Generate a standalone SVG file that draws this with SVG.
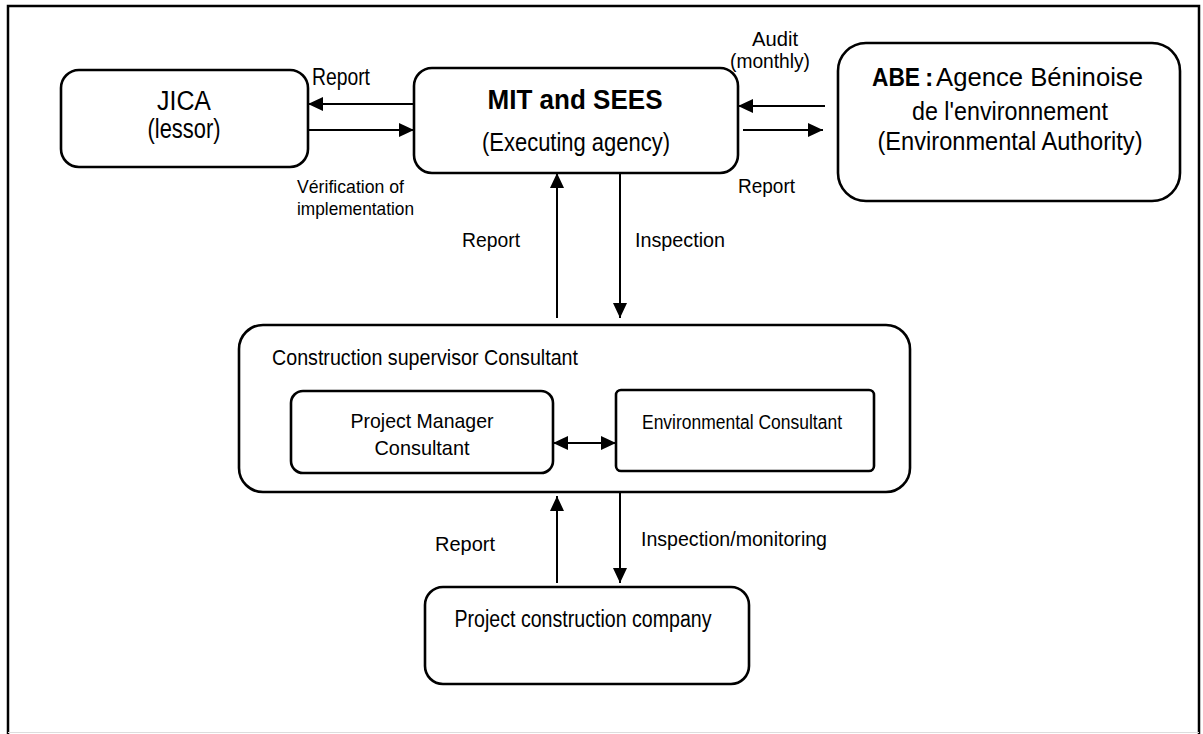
<svg xmlns="http://www.w3.org/2000/svg" width="1203" height="734" viewBox="0 0 1203 734">
  <defs>
    <marker id="arrow" markerUnits="userSpaceOnUse" markerWidth="16" markerHeight="14" refX="15" refY="7" orient="auto">
      <path d="M0,0 L15,7 L0,14 Z" fill="#000"/>
    </marker>
    <marker id="arrow-start" markerUnits="userSpaceOnUse" markerWidth="16" markerHeight="14" refX="0" refY="7" orient="auto">
      <path d="M15,0 L0,7 L15,14 Z" fill="#000"/>
    </marker>
  </defs>
  <style>
    text { font-family: "Liberation Sans", Arial, sans-serif; fill: #000; }
    .box { fill: #fff; stroke: #000; stroke-width: 2.6; }
    .link { stroke: #000; stroke-width: 2; fill: none; }
    .bold { font-weight: bold; }
  </style>

  <rect width="1203" height="734" fill="#fff"/>
  <!-- outer frame -->
  <path d="M8,740 L8,6 L1199,6 L1199,740" fill="none" stroke="#000" stroke-width="2.5"/>
  <line x1="8" y1="732.5" x2="1199" y2="732.5" stroke="#ddd" stroke-width="1"/>

  <g id="jica">
    <rect class="box" x="61" y="70" width="247" height="97" rx="18"/>
    <text x="184" y="110" font-size="27" text-anchor="middle" textLength="54" lengthAdjust="spacingAndGlyphs">JICA</text>
    <text x="184" y="138" font-size="27" text-anchor="middle" textLength="73" lengthAdjust="spacingAndGlyphs">(lessor)</text>
  </g>

  <g id="mit">
    <rect class="box" x="414" y="68" width="324" height="105" rx="18"/>
    <text class="bold" x="575" y="109" font-size="27" text-anchor="middle" textLength="175" lengthAdjust="spacingAndGlyphs">MIT and SEES</text>
    <text x="576" y="151" font-size="26" text-anchor="middle" textLength="188" lengthAdjust="spacingAndGlyphs">(Executing agency)</text>
  </g>

  <g id="abe">
    <rect class="box" x="838" y="43" width="342" height="158" rx="28"/>
    <text class="bold" x="872" y="86" font-size="25" textLength="48" lengthAdjust="spacingAndGlyphs">ABE</text>
    <text class="bold" x="925" y="86" font-size="25">:</text>
    <text x="936" y="86" font-size="26" textLength="207" lengthAdjust="spacingAndGlyphs">Agence Béninoise</text>
    <text x="1010" y="120" font-size="26" text-anchor="middle" textLength="196" lengthAdjust="spacingAndGlyphs">de l'environnement</text>
    <text x="1010" y="150" font-size="26" text-anchor="middle" textLength="265" lengthAdjust="spacingAndGlyphs">(Environmental Authority)</text>
  </g>

  <g id="supervisor">
    <rect class="box" x="239" y="325" width="671" height="167" rx="24"/>
    <text x="272" y="365" font-size="22" textLength="306" lengthAdjust="spacingAndGlyphs">Construction supervisor Consultant</text>
  </g>

  <g id="project-manager">
    <rect class="box" x="291" y="391" width="262" height="82" rx="12"/>
    <text x="422" y="428" font-size="21" text-anchor="middle" textLength="143" lengthAdjust="spacingAndGlyphs">Project Manager</text>
    <text x="422" y="455" font-size="21" text-anchor="middle" textLength="95" lengthAdjust="spacingAndGlyphs">Consultant</text>
  </g>

  <g id="environmental-consultant">
    <rect class="box" x="616" y="390" width="258" height="81" rx="5"/>
    <text x="742" y="429" font-size="20" text-anchor="middle" textLength="200" lengthAdjust="spacingAndGlyphs">Environmental Consultant</text>
  </g>

  <g id="construction-company">
    <rect class="box" x="425" y="587" width="324" height="97" rx="18"/>
    <text x="583" y="627" font-size="23" text-anchor="middle" textLength="257" lengthAdjust="spacingAndGlyphs">Project construction company</text>
  </g>

  <g id="connectors">
    <line class="link" x1="414" y1="104" x2="308" y2="104" marker-end="url(#arrow)"/>
    <line class="link" x1="308" y1="130" x2="414" y2="130" marker-end="url(#arrow)"/>
    <line class="link" x1="825" y1="106" x2="738" y2="106" marker-end="url(#arrow)"/>
    <line class="link" x1="743" y1="130" x2="823" y2="130" marker-end="url(#arrow)"/>
    <line class="link" x1="557" y1="318" x2="557" y2="173" marker-end="url(#arrow)"/>
    <line class="link" x1="620" y1="173" x2="620" y2="318" marker-end="url(#arrow)"/>
    <line class="link" x1="553" y1="443" x2="616" y2="443" marker-start="url(#arrow-start)" marker-end="url(#arrow)"/>
    <line class="link" x1="557" y1="583" x2="557" y2="496" marker-end="url(#arrow)"/>
    <line class="link" x1="620" y1="493" x2="620" y2="583" marker-end="url(#arrow)"/>
  </g>

  <g id="labels">
    <text x="312" y="85" font-size="23" textLength="58" lengthAdjust="spacingAndGlyphs">Report</text>
    <text x="297" y="193" font-size="19" textLength="107" lengthAdjust="spacingAndGlyphs">Vérification of</text>
    <text x="297" y="215" font-size="19" textLength="117" lengthAdjust="spacingAndGlyphs">implementation</text>
    <text x="775" y="46" font-size="21" text-anchor="middle" textLength="46" lengthAdjust="spacingAndGlyphs">Audit</text>
    <text x="770" y="68" font-size="21" text-anchor="middle" textLength="80" lengthAdjust="spacingAndGlyphs">(monthly)</text>
    <text x="738" y="193" font-size="21" textLength="57" lengthAdjust="spacingAndGlyphs">Report</text>
    <text x="462" y="247" font-size="20" textLength="58" lengthAdjust="spacingAndGlyphs">Report</text>
    <text x="635" y="247" font-size="20" textLength="90" lengthAdjust="spacingAndGlyphs">Inspection</text>
    <text x="435" y="551" font-size="20" textLength="60" lengthAdjust="spacingAndGlyphs">Report</text>
    <text x="641" y="546" font-size="20" textLength="186" lengthAdjust="spacingAndGlyphs">Inspection/monitoring</text>
  </g>
</svg>
